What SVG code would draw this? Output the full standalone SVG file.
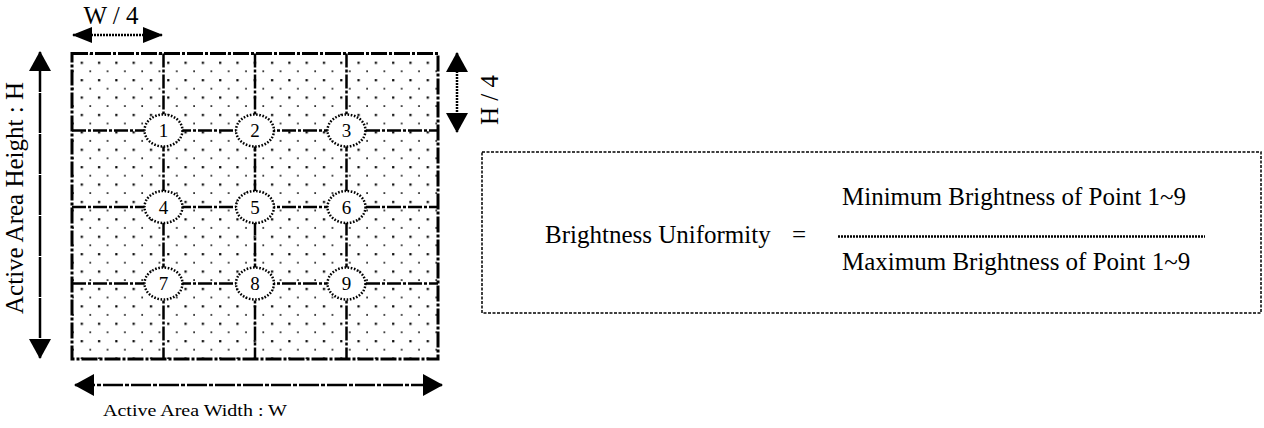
<svg xmlns="http://www.w3.org/2000/svg" width="1264" height="428" viewBox="0 0 1264 428">
<style>
  text { font-family: "Liberation Serif", "Times New Roman", serif; fill: #000; }
  .lbl { font-size: 25px; }
  .num { font-size: 19px; text-anchor: middle; }
  .grid { stroke: #000; stroke-width: 2.5; fill: none; stroke-dasharray: 14 2 3 2; }
  .frame { stroke: #000; stroke-width: 3; fill: url(#dots); stroke-dasharray: 16 2 3 2; }
  .pt { fill: #fff; stroke: #000; stroke-width: 2.5; stroke-dasharray: 1.6 1.6; }
  .dim { stroke: #000; stroke-width: 2.5; fill: none; }
</style>
<defs>
  <pattern id="dots" patternUnits="userSpaceOnUse" x="77.7" y="58.7" width="17.3" height="17.4">
    <rect width="17.3" height="17.4" fill="#fff"/>
    <rect x="3" y="3" width="2.2" height="2.2" fill="#000"/>
    <rect x="11.8" y="11.8" width="1.6" height="1.6" fill="#000"/>
  </pattern>
  <marker id="ah" viewBox="0 0 20 22" refX="19" refY="11" markerWidth="20" markerHeight="22" markerUnits="userSpaceOnUse" orient="auto-start-reverse">
    <path d="M0,0 L20,11 L0,22 Z" fill="#000"/>
  </marker>
  <marker id="ahs" viewBox="0 0 20 16" refX="19" refY="8" markerWidth="20" markerHeight="16" markerUnits="userSpaceOnUse" orient="auto-start-reverse">
    <path d="M0,0 L20,8 L0,16 Z" fill="#000"/>
  </marker>
</defs>
<rect width="1264" height="428" fill="#fff"/>

<g id="active-area">
  <rect class="frame" x="72" y="53.5" width="366" height="305.5"/>
  <line class="grid" x1="72" y1="130.5" x2="438" y2="130.5"/>
  <line class="grid" x1="72" y1="207" x2="438" y2="207"/>
  <line class="grid" x1="72" y1="283.5" x2="438" y2="283.5" stroke-dasharray="3 1 3 1"/>
  <line class="grid" x1="163.5" y1="53.5" x2="163.5" y2="359"/>
  <line class="grid" x1="255" y1="53.5" x2="255" y2="359"/>
  <line class="grid" x1="346.5" y1="53.5" x2="346.5" y2="359"/>
</g>

<g id="connectors">
  <line class="dim" x1="73" y1="35" x2="162" y2="35" marker-start="url(#ahs)" marker-end="url(#ahs)" stroke-dasharray="2 1"/>
  <line class="dim" x1="457" y1="53" x2="457" y2="132" marker-start="url(#ah)" marker-end="url(#ah)" stroke-dasharray="2 1"/>
  <line class="dim" x1="40" y1="52" x2="40" y2="358" marker-start="url(#ah)" marker-end="url(#ah)" stroke-dasharray="40 1"/>
  <line class="dim" x1="75" y1="385" x2="442" y2="385" marker-start="url(#ah)" marker-end="url(#ah)" stroke-dasharray="20 2 4 2"/>
</g>

<g id="labels">
  <text class="lbl" x="111" y="24" text-anchor="middle">W / 4</text>
  <text class="lbl" transform="translate(498,100) rotate(-90)" text-anchor="middle">H / 4</text>
  <text class="lbl" transform="translate(23,198) rotate(-90)" text-anchor="middle">Active Area Height : H</text>
  <text x="195" y="416" font-size="17" text-anchor="middle" textLength="184" lengthAdjust="spacingAndGlyphs">Active Area Width : W</text>
</g>

<g id="p1"><ellipse class="pt" cx="163.5" cy="130.5" rx="19" ry="16"/><text class="num" x="163.5" y="137">1</text></g>
<g id="p2"><ellipse class="pt" cx="255" cy="130.5" rx="19" ry="16"/><text class="num" x="255" y="137">2</text></g>
<g id="p3"><ellipse class="pt" cx="346.5" cy="130.5" rx="19" ry="16"/><text class="num" x="346.5" y="137">3</text></g>
<g id="p4"><ellipse class="pt" cx="163.5" cy="207" rx="19" ry="16"/><text class="num" x="163.5" y="213.5">4</text></g>
<g id="p5"><ellipse class="pt" cx="255" cy="207" rx="19" ry="16"/><text class="num" x="255" y="213.5">5</text></g>
<g id="p6"><ellipse class="pt" cx="346.5" cy="207" rx="19" ry="16"/><text class="num" x="346.5" y="213.5">6</text></g>
<g id="p7"><ellipse class="pt" cx="163.5" cy="283.5" rx="19" ry="16"/><text class="num" x="163.5" y="290">7</text></g>
<g id="p8"><ellipse class="pt" cx="255" cy="283.5" rx="19" ry="16"/><text class="num" x="255" y="290">8</text></g>
<g id="p9"><ellipse class="pt" cx="346.5" cy="283.5" rx="19" ry="16"/><text class="num" x="346.5" y="290">9</text></g>

<g id="formula">
  <rect x="482" y="152" width="779" height="161" fill="none" stroke="#000" stroke-width="1.5" stroke-dasharray="3 1.5"/>
  <text class="lbl" x="545" y="243">Brightness Uniformity</text>
  <text class="lbl" x="792" y="243">=</text>
  <text class="lbl" x="842" y="205">Minimum Brightness of Point 1~9</text>
  <line x1="838" y1="236.5" x2="1205" y2="236.5" stroke="#000" stroke-width="2.5" stroke-dasharray="2 1"/>
  <text class="lbl" x="842" y="270">Maximum Brightness of Point 1~9</text>
</g>
</svg>
